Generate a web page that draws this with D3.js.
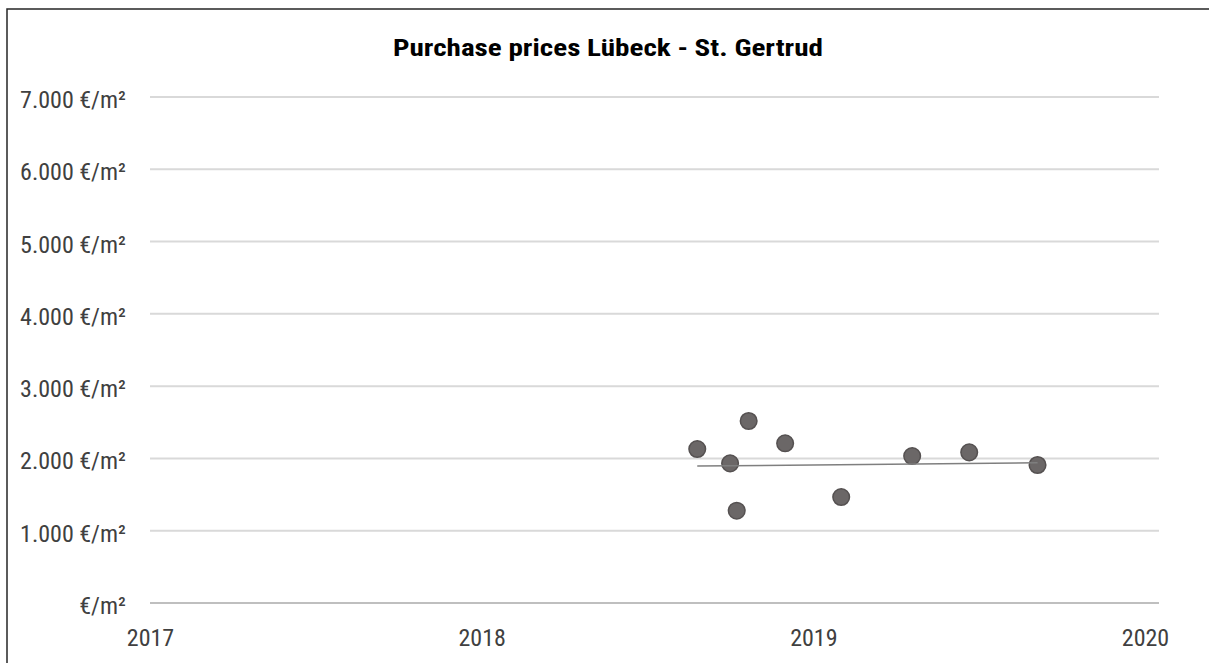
<!DOCTYPE html>
<html>
<head>
<meta charset="utf-8">
<script src="https://cdn.jsdelivr.net/npm/d3@7/dist/d3.min.js"></script>
<style>
  html, body { margin: 0; padding: 0; background: #fff; }
  svg { display: block; }
  text { font-family: "Liberation Sans Narrow", "Roboto Condensed", "Liberation Sans", sans-serif; }
</style>
</head>
<body>
<script>
// ---- data ----
const title = "Purchase prices Lübeck - St. Gertrud";
const yTicks = [0, 1000, 2000, 3000, 4000, 5000, 6000, 7000];
const yTickLabels = ["€/m²", "1.000 €/m²", "2.000 €/m²", "3.000 €/m²", "4.000 €/m²", "5.000 €/m²", "6.000 €/m²", "7.000 €/m²"];
const xTicks = [2017, 2018, 2019, 2020];
const xTickLabels = ["2017", "2018", "2019", "2020"];
const pointDates = [2018.650, 2018.749, 2018.805, 2018.769, 2018.915, 2019.084, 2019.298, 2019.470, 2019.676];
const pointPrices = [2130, 1932, 2518, 1277, 2209, 1466, 2033, 2084, 1909];
const trendDates = [2018.650, 2019.676];
const trendPrices = [1895, 1940];

// ---- layout ----
const W = 1209, H = 663;
const FONT = '"Liberation Sans Narrow", "Roboto Condensed", sans-serif';
const svg = d3.select("body").append("svg").attr("width", W).attr("height", H);

// outer frame
svg.append("rect").attr("x", 7).attr("y", 9).attr("width", W + 10).attr("height", H + 10)
  .attr("fill", "none").attr("stroke", "#262626").attr("stroke-width", 1.5);

const x = d3.scaleLinear().domain([2017, 2020]).range([150, 1145]);
const y = d3.scaleLinear().domain([0, 7000]).range([603, 97]);
const gridX0 = 150, gridX1 = 1159;

// title
svg.append("text").attr("x", 608).attr("y", 56).attr("text-anchor", "middle")
  .attr("font-size", 23.5).attr("font-weight", "bold").attr("fill", "#000")
  .attr("textLength", 430).attr("lengthAdjust", "spacingAndGlyphs")
  .text(title);

// gridlines
svg.append("g").selectAll("line").data(yTicks).join("line")
  .attr("x1", gridX0).attr("x2", gridX1)
  .attr("y1", d => y(d)).attr("y2", d => y(d))
  .attr("stroke", d => d === 0 ? "#bfbfbf" : "#d9d9d9").attr("stroke-width", 2);

// y axis labels
const yAxis = d3.axisLeft(y).tickValues(yTicks).tickSize(0).tickPadding(0)
  .tickFormat((d, i) => yTickLabels[i]);
const gy = svg.append("g").attr("transform", "translate(126,0)").call(yAxis);
gy.select(".domain").remove();
gy.selectAll("text").attr("font-size", 24).attr("fill", "#404040")
  .style("font-family", FONT)
  .attr("y", 10.5).attr("dy", null);

// x axis labels
const xAxis = d3.axisBottom(x).tickValues(xTicks).tickSize(0).tickPadding(0)
  .tickFormat((d, i) => xTickLabels[i]);
const gx = svg.append("g").attr("transform", "translate(0,646)").call(xAxis);
gx.select(".domain").remove();
gx.selectAll("text").attr("font-size", 24).attr("fill", "#404040")
  .style("font-family", FONT)
  .attr("y", 0).attr("dy", null);

// points
const pts = pointDates.map((d, i) => ({ d, v: pointPrices[i] }));
svg.append("g").selectAll("circle").data(pts).join("circle")
  .attr("cx", p => x(p.d)).attr("cy", p => y(p.v)).attr("r", 8.3)
  .attr("fill", "#6b6767").attr("stroke", "#555151").attr("stroke-width", 1.5);

// trend line
const trend = trendDates.map((d, i) => [x(d), y(trendPrices[i])]);
svg.append("path").attr("d", d3.line()(trend))
  .attr("fill", "none").attr("stroke", "#7f7f7f").attr("stroke-width", 1.5);
</script>
</body>
</html>
